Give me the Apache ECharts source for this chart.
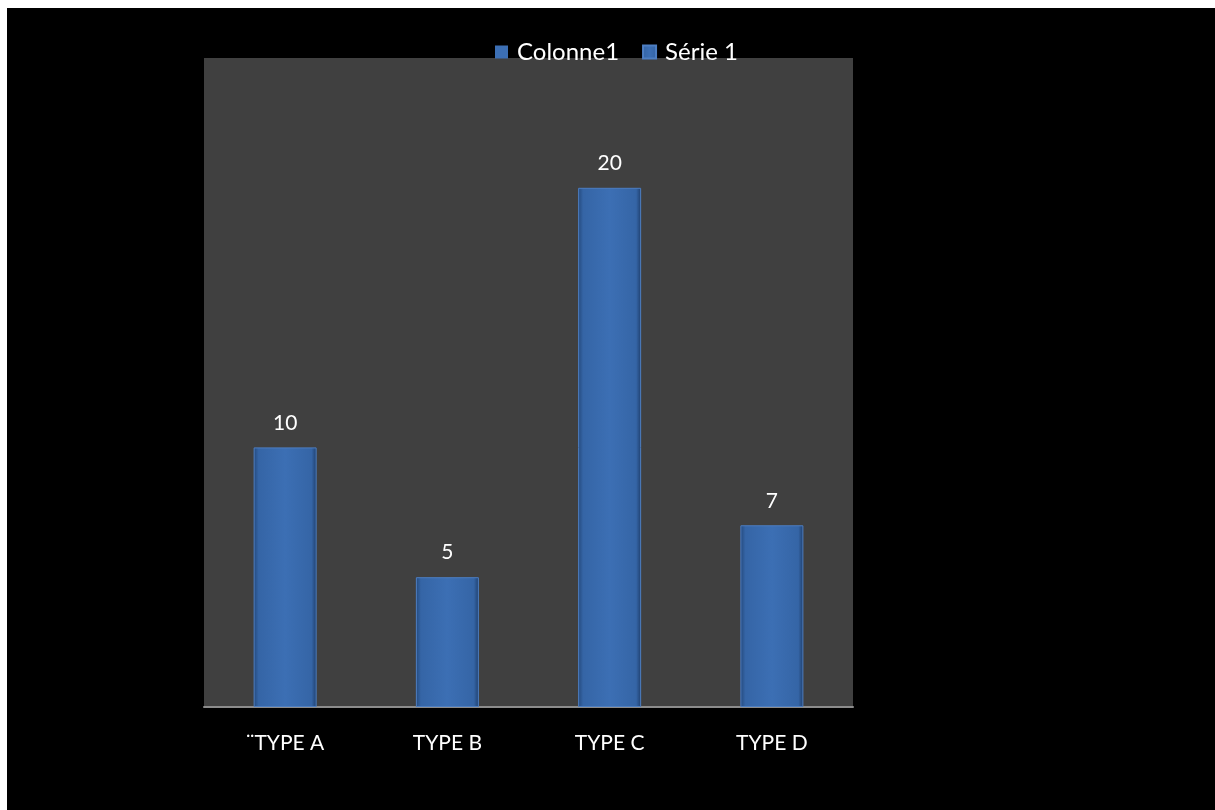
<!DOCTYPE html>
<html>
<head>
<meta charset="utf-8">
<script src="https://cdn.jsdelivr.net/npm/echarts@6/dist/echarts.min.js"></script>
<style>
    html, body {margin:0; padding:0; background:#fff;}
    #chart {position:absolute; left:7px; top:8px; width:1208px; height:802px; background:#000;}
</style>
</head>
<body>
<div id="chart"></div>
<script>
let categories = ["¨TYPE A", "TYPE B", "TYPE C", "TYPE D"];
let serie1 = [10, 5, 20, 7];
let colonne1 = [];

let barColor = {
    type: 'linear', x: 0, y: 0, x2: 1, y2: 0,
    colorStops: [
        {offset: 0, color: '#24497c'},
        {offset: 0.08, color: '#3565a6'},
        {offset: 0.5, color: '#3c6fb4'},
        {offset: 0.92, color: '#3565a6'},
        {offset: 1, color: '#1f3f6d'}
    ]
};

let chart = echarts.init(document.getElementById('chart'));
chart.setOption({
    backgroundColor: '#000',
    textStyle: {fontFamily: 'Lato'},
    legend: {
        top: 27,
        left: 483,
        itemWidth: 13,
        itemHeight: 13,
        itemGap: 23,
        icon: 'rect',
        textStyle: {color: '#fff', fontSize: 24, fontFamily: 'Lato', padding: [0, 0, 0, 4]},
        data: ['Colonne1', 'Série 1']
    },
    grid: {left: 197, top: 50, width: 649, height: 649, backgroundColor: '#404040', show: true, borderWidth: 0},
    xAxis: {
        type: 'category',
        data: categories,
        axisLine: {lineStyle: {color: '#8c8c8c', width: 2}},
        axisTick: {show: false},
        axisLabel: {color: '#fff', fontSize: 21, margin: 26, fontFamily: 'Lato'}
    },
    yAxis: {
        type: 'value',
        min: 0,
        max: 25,
        show: false
    },
    series: [
        {
            name: 'Colonne1',
            type: 'bar',
            data: colonne1,
            barGap: '-100%',
            itemStyle: {color: '#3c6fb4'}
        },
        {
            name: 'Série 1',
            type: 'bar',
            data: serie1,
            barWidth: 63,
            barGap: '-100%',
            itemStyle: {color: barColor, borderColor: '#4d7ec2', borderWidth: 1},
            label: {show: true, position: 'top', distance: 14, color: '#fff', fontSize: 21, fontFamily: 'Lato'}
        }
    ]
});
</script>
</body>
</html>
